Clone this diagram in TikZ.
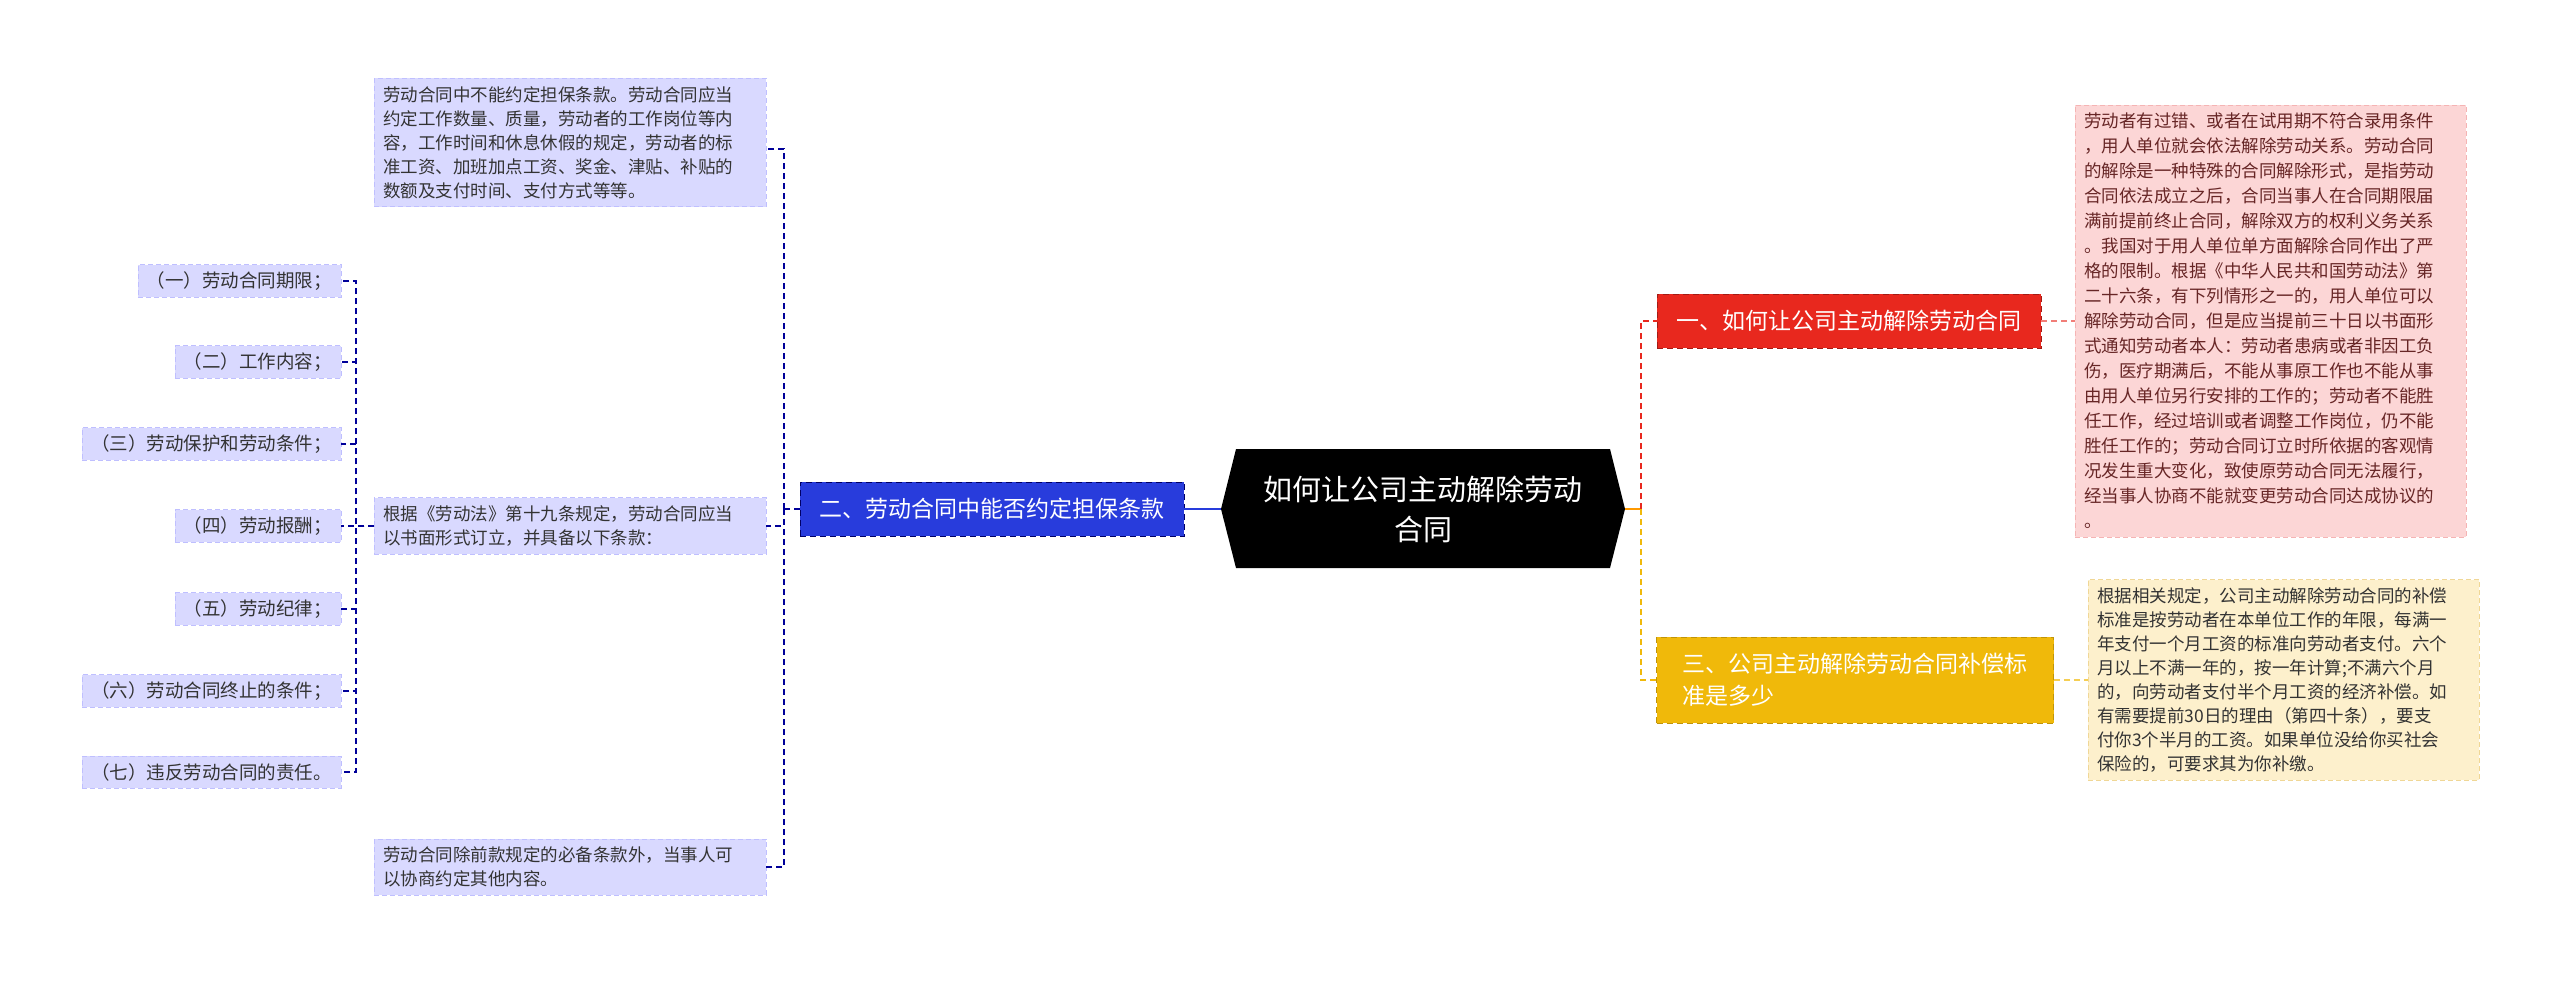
\documentclass[tikz,border=0pt]{standalone}
\usepackage{fontspec}
\setmainfont{Noto Sans CJK SC}
\begin{document}
\begin{tikzpicture}[x=1pt,y=-1pt,
  txt/.style={font=\fontsize{17.5}{24}\selectfont, align=left, inner xsep=9pt, inner ysep=8pt, draw, dash pattern=on 5pt off 3pt},
  bluebox/.style={txt, fill=blue!15!white, draw=blue!25!white, text=black!80},
  item/.style={bluebox, font=\fontsize{18.5}{24}\selectfont, anchor=east, inner ysep=7pt},
  dl/.style={dash pattern=on 6pt off 4pt, line width=1.3pt},
  blink/.style={draw=blue!60!black, dl},
]
\definecolor{pinkf}{RGB}{252,214,214}\definecolor{pinkd}{RGB}{245,180,180}
\definecolor{yelf}{RGB}{253,240,204}\definecolor{yeld}{RGB}{240,215,150}
\definecolor{bnode}{RGB}{40,60,220}\definecolor{rnode}{RGB}{232,40,30}\definecolor{ynode}{RGB}{240,185,10}
\useasboundingbox (0,0) rectangle (2560,982);
% central
\fill[black] (1221,509) -- (1236,449) -- (1610,449) -- (1625,509) -- (1610,568) -- (1236,568) -- cycle;
\node[text=white, font=\fontsize{29}{40}\selectfont, align=center] (c) at (1423,509) {如何让公司主动解除劳动\\合同};
\coordinate (cl) at (1221,509); \coordinate (cr) at (1625,509);
% right nodes
\node[fill=rnode, text=white, font=\fontsize{23}{30}\selectfont, minimum width=384pt, minimum height=54pt, draw=rnode!70!black, dl, line width=0.8pt] (r1) at (1849,321) {一、如何让公司主动解除劳动合同};
\node[fill=ynode, text=white, font=\fontsize{23}{32}\selectfont, align=left, minimum width=397pt, minimum height=86pt, draw=ynode!80!black, dl, line width=0.8pt] (r3) at (1855,680) {三、公司主动解除劳动合同补偿标\\准是多少};
\node[txt, fill=pinkf, draw=pinkd, text=red!30!black!85, anchor=west, text width=373pt, font=\fontsize{17.5}{25}\selectfont] (p1) at (2075,321) {劳动者有过错、或者在试用期不符合录用条件\\，用人单位就会依法解除劳动关系。劳动合同\\的解除是一种特殊的合同解除形式，是指劳动\\合同依法成立之后，合同当事人在合同期限届\\满前提前终止合同，解除双方的权利义务关系\\。我国对于用人单位单方面解除合同作出了严\\格的限制。根据《中华人民共和国劳动法》第\\二十六条，有下列情形之一的，用人单位可以\\解除劳动合同，但是应当提前三十日以书面形\\式通知劳动者本人：劳动者患病或者非因工负\\伤，医疗期满后，不能从事原工作也不能从事\\由用人单位另行安排的工作的；劳动者不能胜\\任工作，经过培训或者调整工作岗位，仍不能\\胜任工作的；劳动合同订立时所依据的客观情\\况发生重大变化，致使原劳动合同无法履行，\\经当事人协商不能就变更劳动合同达成协议的\\。};
\node[txt, fill=yelf, draw=yeld, text=black!80, anchor=west, text width=373pt] (p3) at (2088,680) {根据相关规定，公司主动解除劳动合同的补偿\\标准是按劳动者在本单位工作的年限，每满一\\年支付一个月工资的标准向劳动者支付。六个\\月以上不满一年的，按一年计算;不满六个月\\的，向劳动者支付半个月工资的经济补偿。如\\有需要提前30日的理由（第四十条），要支\\付你3个半月的工资。如果单位没给你买社会\\保险的，可要求其为你补缴。};
\coordinate (rj) at (1641,509);
\draw[orange!80!yellow, line width=1.3pt] (cr) -- (rj);
\draw[rnode, dl] (rj) |- (r1.west);
\draw[ynode, dl] (rj) |- (r3.west);
\draw[rnode!60, dl] (r1.east) -- (p1.west);
\draw[ynode!70, dl] (r3.east) -- (p3.west);
% left
\node[fill=bnode, text=white, font=\fontsize{23}{30}\selectfont, minimum width=384pt, minimum height=54pt, draw=blue!40!black, dl, line width=0.8pt] (b) at (992,509) {二、劳动合同中能否约定担保条款};
\draw[bnode, line width=1.5pt] (cl) -- (b.east);
\node[bluebox, anchor=north west, text width=374pt] (t1) at (374,78) {劳动合同中不能约定担保条款。劳动合同应当\\约定工作数量、质量，劳动者的工作岗位等内\\容，工作时间和休息休假的规定，劳动者的标\\准工资、加班加点工资、奖金、津贴、补贴的\\数额及支付时间、支付方式等等。};
\node[bluebox, anchor=west, text width=374pt] (t2) at (374,526) {根据《劳动法》第十九条规定，劳动合同应当\\以书面形式订立，并具备以下条款：};
\node[bluebox, anchor=west, text width=374pt] (t3) at (374,867) {劳动合同除前款规定的必备条款外，当事人可\\以协商约定其他内容。};
\coordinate (bj) at (784,509);
\draw[blink] (b.west) -- (bj);
\draw[blink] (bj) |- (t1.east|-0,149);
\draw[blink] (bj) |- (t2.east);
\draw[blink] (bj) |- (t3.east);
\foreach \n/\y/\t in {i1/281/（一）劳动合同期限；, i2/362/（二）工作内容；, i3/444/（三）劳动保护和劳动条件；, i4/526/（四）劳动报酬；, i5/609/（五）劳动纪律；, i6/691/（六）劳动合同终止的条件；, i7/772/（七）违反劳动合同的责任。}{
  \node[item] (\n) at (341,\y) {\t};
  \draw[blink] (t2.west) -- (356,526) |- (\n.east);
}
\end{tikzpicture}
\end{document}
